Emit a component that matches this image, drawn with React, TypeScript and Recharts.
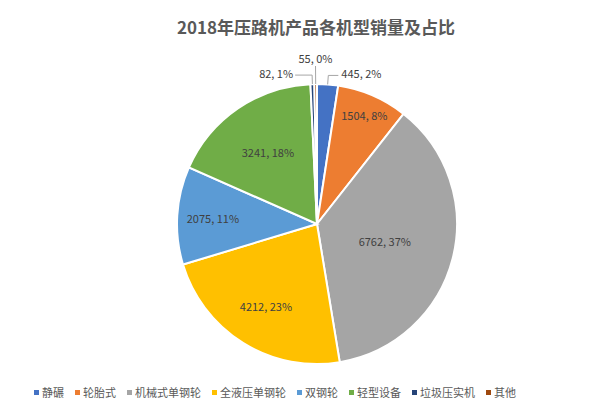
import { PieChart, Pie, Cell } from "recharts";

// machine types and 2018 sales volumes
const categories = ["静碾", "轮胎式", "机械式单钢轮", "全液压单钢轮", "双钢轮", "轻型设备", "垃圾压实机", "其他"];
const sales = [445, 1504, 6762, 4212, 2075, 3241, 82, 55];

const COLORS = ["#4472C4", "#ED7D31", "#A5A5A5", "#FFC000", "#5B9BD5", "#70AD47", "#264478", "#9E480E"];
const FONT = '"Noto Sans CJK SC", "Noto Sans", sans-serif';
const RAD = Math.PI / 180;

// whole percents that add up to 100 (largest remainder, like Excel)
function roundedPercents(vals: number[]) {
  const total = vals.reduce((a, b) => a + b, 0);
  const raw = vals.map((v) => (v / total) * 100);
  const out = raw.map(Math.floor);
  let left = 100 - out.reduce((a, b) => a + b, 0);
  const order = raw.map((r, i) => [r - Math.floor(r), i]).sort((a, b) => b[0] - a[0]);
  for (let k = 0; k < left; k++) out[order[k][1]] += 1;
  return out;
}
const percents = roundedPercents(sales);

const data = categories.map((name, i) => ({ name, value: sales[i], pct: percents[i] }));

// label layout: inside labels use a radius factor, small slices go outside with a leader line
const insideFactor: Record<number, number> = { 1: 0.85, 2: 0.5, 3: 0.69, 4: 0.745, 5: 0.62 };
const outside: Record<number, { out: number; h: number }> = {
  0: { out: 9, h: 10 },
  6: { out: 9, h: -17 },
  7: { out: 18, h: 0 },
};

const renderLabel = (props: any) => {
  const { cx, cy, midAngle, outerRadius, index } = props;
  const text = `${sales[index]}, ${percents[index]}%`;
  const cos = Math.cos(-midAngle * RAD);
  const sin = Math.sin(-midAngle * RAD);
  if (outside[index]) {
    const { out, h } = outside[index];
    const x0 = cx + outerRadius * cos;
    const y0 = cy + outerRadius * sin;
    const x1 = cx + (outerRadius + out) * cos;
    const y1 = cy + (outerRadius + out) * sin;
    const x2 = x1 + h;
    const anchor = h > 0 ? "start" : h < 0 ? "end" : "middle";
    const tx = h > 0 ? x2 + 3 : h < 0 ? x2 - 2 : x2;
    const ty = h === 0 ? y1 - 8 : y1 - 2;
    return (
      <g key={`lbl-${index}`}>
        <polyline points={`${x0},${y0} ${x1},${y1} ${x2},${y1}`} fill="none" stroke="#A6A6A6" strokeWidth={1} />
        <text x={tx} y={ty} textAnchor={anchor} dominantBaseline="central" fill="#404040" fontSize={11} fontFamily={FONT}>
          {text}
        </text>
      </g>
    );
  }
  const r = outerRadius * (insideFactor[index] ?? 0.65);
  return (
    <text
      key={`lbl-${index}`}
      x={cx + r * cos}
      y={cy + r * sin}
      textAnchor="middle"
      dominantBaseline="central"
      fill="#404040"
      fontSize={11}
      fontFamily={FONT}
    >
      {text}
    </text>
  );
};

export default function App() {
  return (
    <div style={{ position: "absolute", left: 0, top: 0, width: 600, height: 408, background: "#fff", fontFamily: FONT }}>
      <div
        style={{
          position: "absolute",
          top: 15,
          left: 0,
          width: 632,
          textAlign: "center",
          fontSize: 17,
          fontWeight: 700,
          color: "#595959",
          lineHeight: "24px",
        }}
      >
        2018年压路机产品各机型销量及占比
      </div>
      <PieChart width={600} height={408} margin={{ top: 0, right: 0, bottom: 0, left: 0 }}>
        <Pie
          data={data}
          dataKey="value"
          nameKey="name"
          cx={317}
          cy={224}
          outerRadius={140}
          startAngle={90}
          endAngle={-270}
          stroke="#fff"
          strokeWidth={2}
          label={renderLabel}
          labelLine={false}
          isAnimationActive={false}
        >
          {data.map((_, i) => (
            <Cell key={`cell-${i}`} fill={COLORS[i]} />
          ))}
        </Pie>
      </PieChart>
      <div
        style={{
          position: "absolute",
          top: 384,
          left: 34,
          display: "flex",
          alignItems: "center",
          fontSize: 11,
          color: "#595959",
          lineHeight: "16px",
          whiteSpace: "nowrap",
        }}
      >
        {categories.map((c, i) => (
          <span key={c} style={{ display: "flex", alignItems: "center", marginRight: 11 }}>
            <span style={{ width: 5, height: 5, background: COLORS[i], marginRight: 3, display: "inline-block" }} />
            {c}
          </span>
        ))}
      </div>
    </div>
  );
}
